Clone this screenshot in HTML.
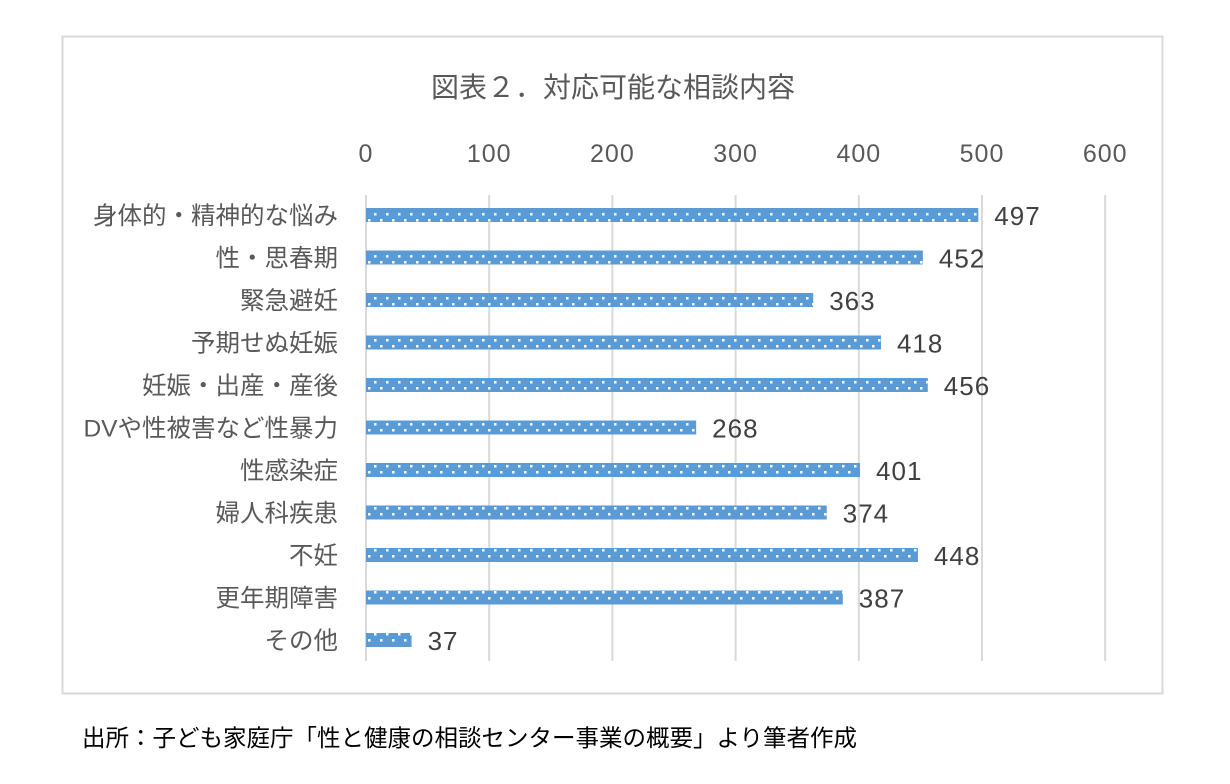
<!DOCTYPE html>
<html><head><meta charset="utf-8"><style>
body{margin:0;background:#fff;width:1230px;height:784px;overflow:hidden;font-family:"Liberation Sans","Noto Sans CJK JP",sans-serif;}
</style></head><body>
<svg width="1230" height="784" style="position:absolute;left:0;top:0">
<defs><pattern id="dots" width="12" height="14" patternUnits="userSpaceOnUse">
<rect width="12" height="14" fill="#5b9bd5"/>
<rect x="2" y="3" width="2.5" height="2.5" fill="#fff"/><rect x="8" y="9" width="2.5" height="2.5" fill="#fff"/>
</pattern></defs>
<rect x="62.5" y="36.5" width="1100" height="657" fill="#fff" stroke="#d9d9d9" stroke-width="2"/>
<text x="613" y="97" text-anchor="middle" font-size="28" fill="#595959">図表２．対応可能な相談内容</text>
<g id="grid"></g><g id="bars"></g>
<text x="82" y="746" font-size="23.5" fill="#000">出所：子ども家庭庁「性と健康の相談センター事業の概要」より筆者作成</text>
</svg>
<script>
const categories=["身体的・精神的な悩み","性・思春期","緊急避妊","予期せぬ妊娠","妊娠・出産・産後","DVや性被害など性暴力","性感染症","婦人科疾患","不妊","更年期障害","その他"];
const values=[497,452,363,418,456,268,401,374,448,387,37];
const ticks=[0,100,200,300,400,500,600];
const NS="http://www.w3.org/2000/svg";
const x=v=>366+v*1.232;
const y=i=>215+i*42.5;
function mk(t,a,p,txt){const e=document.createElementNS(NS,t);for(const k in a)e.setAttribute(k,a[k]);if(txt!==undefined)e.textContent=txt;p.appendChild(e);return e;}
const g=document.getElementById('grid'),b=document.getElementById('bars');
ticks.forEach(t=>{
 const l=mk('line',{x1:x(t),x2:x(t),y1:195,y2:661,stroke:'#d9d9d9','stroke-width':2},g);
 
 
 const tx=mk('text',{x:x(t),y:162,'text-anchor':'middle','font-size':25,'letter-spacing':'1',fill:'#595959'},g,String(t));
 
 
});
categories.forEach((c,i)=>{
 const r=mk('rect',{x:x(0),y:y(i)-7,width:x(values[i])-x(0),height:14,fill:'url(#dots)'},b);
 
 
 const lb=mk('text',{x:338,y:y(i)+9,'text-anchor':'end','font-size':24.5,fill:'#595959'},b,c);
 
 
 const vl=mk('text',{x:x(values[i])+16,y:y(i)+10,'font-size':26,'letter-spacing':'1',fill:'#404040'},b,String(values[i]));
 
 
});
</script>
</body></html>
